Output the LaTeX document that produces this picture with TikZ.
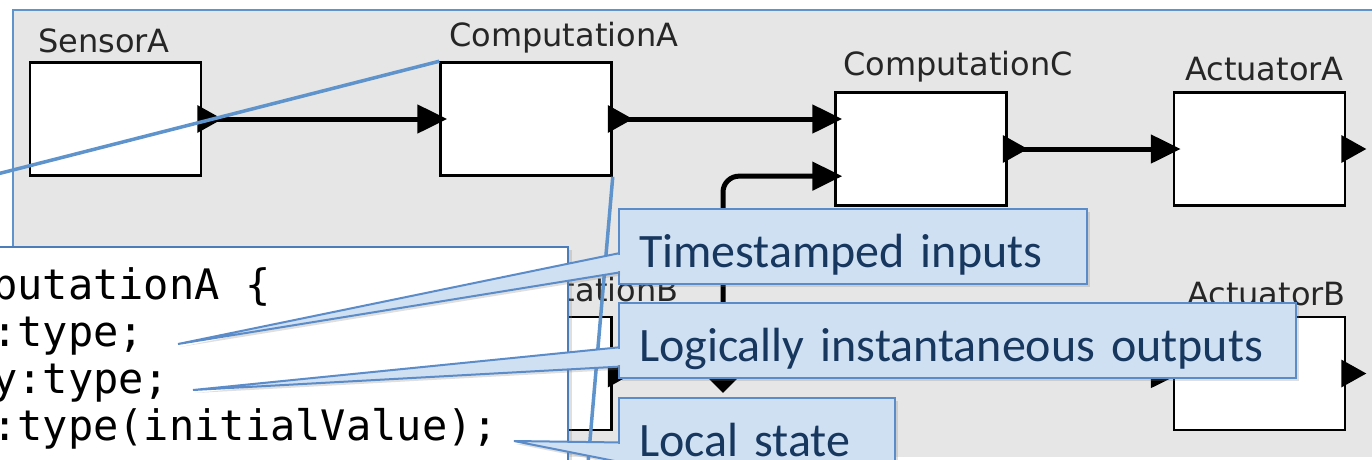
\documentclass[tikz,border=0pt]{standalone}
\usepackage{fontspec}
\usetikzlibrary{arrows.meta,shapes.geometric,shadows,calc}
\newfontfamily\labelfont{DejaVu Sans}
\newfontfamily\notefont{Carlito}
\newfontfamily\codefont{DejaVu Sans Mono}

\definecolor{panelgray}{HTML}{E6E6E6}
\definecolor{zoomblue}{HTML}{5F93CC}
\definecolor{callfill}{HTML}{CFE0F3}
\definecolor{callline}{HTML}{5B8BC8}
\definecolor{calltext}{HTML}{17375E}
\definecolor{codeline}{HTML}{4A7DBA}

\tikzstyle{block}=[draw=black, fill=white, line width=2.5pt, minimum width=171pt, minimum height=113pt, inner sep=0pt]
\tikzstyle{blocklabel}=[anchor=base west, inner sep=0pt, font=\labelfont\fontsize{32}{38}\selectfont, text=black!85]
\tikzstyle{link}=[draw, line width=5pt, -{Triangle[length=30pt,width=28pt]}, shorten >=-8pt]
\tikzstyle{relation}=[diamond, fill=black, minimum width=38pt, minimum height=38pt, inner sep=0pt]
\tikzstyle{zoomline}=[draw=zoomblue, line width=3.5pt]
\tikzstyle{codebox}=[draw=codeline, line width=1.5pt, fill=white, anchor=north west, inner sep=0pt, drop shadow={shadow xshift=4pt, shadow yshift=-3pt, opacity=0.25}]
\tikzstyle{codetext}=[anchor=base west, inner sep=0pt, font=\codefont\fontsize{42}{47}\selectfont]
\tikzstyle{notebox}=[draw=callline, line width=2pt, fill=callfill, anchor=north west, minimum height=75pt, inner xsep=20pt, inner ysep=10.5pt, text height=48pt, text depth=6pt, align=left, font=\notefont\fontsize{48}{56}\selectfont, text=calltext, drop shadow={shadow xshift=3pt, shadow yshift=-3pt, opacity=0.25}]
\tikzstyle{notewedge}=[fill=callfill, draw=callline, line width=2pt, drop shadow={shadow xshift=2pt, shadow yshift=-3pt, opacity=0.25}]
\tikzset{outport/.pic={\fill (-5,-14) -- (20,0) -- (-5,14) -- cycle;}}

\begin{document}
\begin{tikzpicture}[x=1pt, y=-1pt]
    \useasboundingbox (0,0) rectangle (1372,459);
    \clip (0,0) rectangle (1372,459);

    % screenshot of the model
    \fill[panelgray] (13,10) rectangle (1380,457);
    \draw[zoomblue, line width=2.5pt] (13,457) -- (13,10) -- (1380,10);

    \foreach \x/\y/\name in {115.5/119/sensorA, 526/119/compA, 921/149/compC, 1259.5/149/actA, 526/373.5/compB, 1259.5/373.5/actB}
        \node[block] (\name) at (\x,\y) {};

    \foreach \x/\y/\name/\txt in {38/52/sensorA/SensorA, 449/46/compA/ComputationA, 843/75/compC/ComputationC, 1185/80/actA/ActuatorA, 449/301/compB/ComputationB, 1187/305/actB/ActuatorB}
        \node[blocklabel] (\name-label) at (\x,\y) {\txt};

    \coordinate (compC-in1) at (compA.east -| compC.west);
    \coordinate (compC-in2) at ($(compC.north west)!0.735!(compC.south west)$);

    \foreach \source/\dest in {sensorA/compA, compC/actA, compB/actB}
        \draw[link] (\source.east) -- (\dest.west);
    \draw[link] (compA.east) -- (compC-in1);

    \node[relation] (rel) at (723,374) {};
    \draw[link, rounded corners=16pt] (rel.center) |- (compC-in2);

    \foreach \name in {sensorA, compA, compC, actA, compB, actB}
        \pic at (\name.east) {outport};

    % zoomed code of ComputationA
    \node[codebox, minimum width=852pt, minimum height=441pt] (codebox) at (-285,246) {};
    \foreach \i/\txt in {0/{putationA \{}, 1/{:type;}, 2/{y:type;}, 3/{:type(initialValue);}}
        \node[codetext] (code\i) at (-8,299+47*\i) {\txt};

    \draw[zoomline] (compA.north west) -- (codebox.north west);
    \draw[zoomline] (compA.south east) -- (codebox.south east);

    % callouts
    \coordinate (tip-inputs) at (178,344);
    \coordinate (tip-outputs) at (193,390);
    \coordinate (tip-state) at (514,441);

    \foreach \name/\y/\w/\txt in {inputs/208/428/{Timestamped inputs}, outputs/302/637/{Logically instantaneous outputs}, state/397/236/{Local state}} {
        \node[notebox, text width=\w pt] (\name) at (618,\y) {\txt};
        \coordinate (\name-a) at ($(\name.north west)!0.59!(\name.south west)$);
        \coordinate (\name-b) at ($(\name.north west)!0.84!(\name.south west)$);
        \path[notewedge] (\name-a) -- (tip-\name) -- (\name-b);
        \fill[callfill] ($(\name-a)+(-1,1.3)$) rectangle ($(\name-b)+(2.5,-1.3)$);
    }
\end{tikzpicture}
\end{document}
